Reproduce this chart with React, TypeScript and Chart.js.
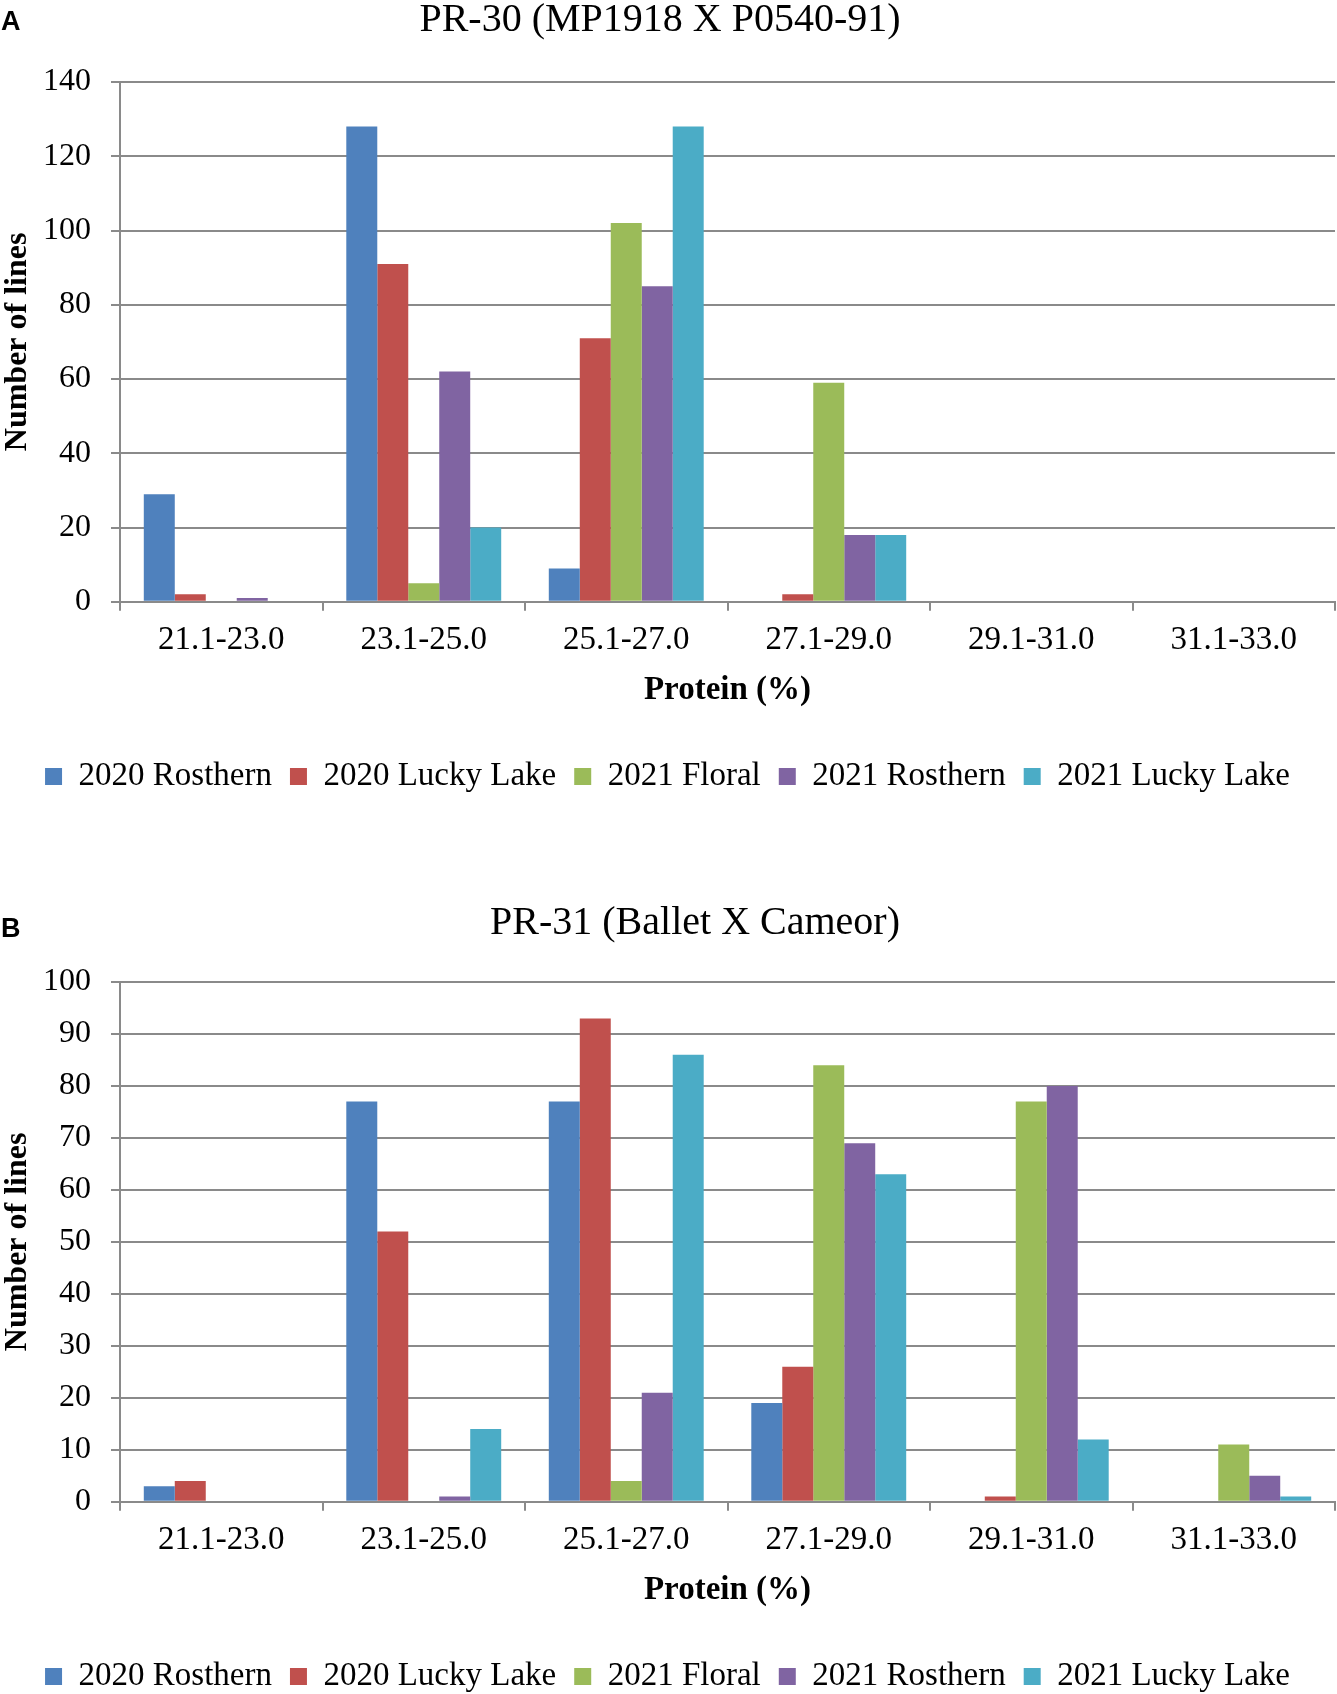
import React, { useEffect, useRef } from "react";
import { Chart, registerables } from "chart.js";

Chart.register(...registerables);

// ---------- data ----------
const categories = ["21.1-23.0", "23.1-25.0", "25.1-27.0", "27.1-29.0", "29.1-31.0", "31.1-33.0"];
const seriesNames = ["2020 Rosthern", "2020 Lucky Lake", "2021 Floral", "2021 Rosthern", "2021 Lucky Lake"];
const seriesColors = ["#4F81BD", "#C0504D", "#9BBB59", "#8064A2", "#4BACC6"];

// Panel A: PR-30 (MP1918 X P0540-91)
const pr30Rosthern2020 = [29, 128, 9, 0, 0, 0];
const pr30LuckyLake2020 = [2, 91, 71, 2, 0, 0];
const pr30Floral2021 = [0, 5, 102, 59, 0, 0];
const pr30Rosthern2021 = [1, 62, 85, 18, 0, 0];
const pr30LuckyLake2021 = [0, 20, 128, 18, 0, 0];
const pr30YMax = 140;
const pr30YStep = 20;

// Panel B: PR-31 (Ballet X Cameor)
const pr31Rosthern2020 = [3, 77, 77, 19, 0, 0];
const pr31LuckyLake2020 = [4, 52, 93, 26, 1, 0];
const pr31Floral2021 = [0, 0, 4, 84, 77, 11];
const pr31Rosthern2021 = [0, 1, 21, 69, 80, 5];
const pr31LuckyLake2021 = [0, 14, 86, 63, 12, 1];
const pr31YMax = 100;
const pr31YStep = 10;

const xTitle = "Protein (%)";
const yTitle = "Number of lines";

// ---------- styling ----------
const SERIF = "'Liberation Serif', 'Times New Roman', serif";
const SANS = "'Liberation Sans', Arial, sans-serif";
const GRID = "#8a8a8a";
const W = 1337;

const panelTitlePlugin = {
  id: "panelTitle",
  afterDraw(chart: any, _args: any, opts: any) {
    const ctx = chart.ctx;
    ctx.save();
    ctx.fillStyle = "#000";
    ctx.textBaseline = "alphabetic";
    ctx.textAlign = "left";
    ctx.font = `bold 27px ${SANS}`;
    ctx.fillText(opts.letter, opts.letterX, opts.letterY);
    ctx.textBaseline = "middle";
    ctx.textAlign = "center";
    ctx.font = `40px ${SERIF}`;
    ctx.fillText(opts.text, opts.x, opts.y);
    ctx.restore();
  },
};

function makeConfig(
  series: number[][],
  yMax: number,
  yStep: number,
  title: string,
  letter: string,
  titleX: number,
  titleY: number,
  letterY: number,
  padBottom: number
): any {
  return {
    type: "bar",
    data: {
      labels: categories,
      datasets: series.map((vals, i) => ({
        label: seriesNames[i],
        data: vals,
        backgroundColor: seriesColors[i],
        borderWidth: 0,
        categoryPercentage: 0.765,
        barPercentage: 1.0,
      })),
    },
    plugins: [panelTitlePlugin],
    options: {
      responsive: false,
      animation: false,
      devicePixelRatio: 1,
      layout: { padding: { top: 82, left: 0, right: 2, bottom: padBottom } },
      plugins: {
        tooltip: { enabled: false },
        title: { display: false },
        panelTitle: { text: title, letter, x: titleX, y: titleY, letterX: 1, letterY },
        legend: {
          display: true,
          position: "bottom",
          align: "center",
          labels: {
            boxWidth: 17,
            boxHeight: 17,
            padding: 18,
            color: "#000",
            font: { family: SERIF, size: 33 },
          },
        },
      },
      scales: {
        x: {
          offset: true,
          grid: {
            display: true,
            offset: true,
            drawOnChartArea: false,
            drawTicks: true,
            tickLength: 9,
            color: GRID,
            lineWidth: 2,
          },
          border: { display: true, color: GRID, width: 2 },
          ticks: {
            color: "#000",
            font: { family: SERIF, size: 33 },
            padding: 10,
            maxRotation: 0,
            autoSkip: false,
          },
          title: {
            display: true,
            text: xTitle,
            color: "#000",
            font: { family: SERIF, size: 33, weight: "bold" },
            padding: { top: 0, bottom: 32 },
          },
        },
        y: {
          min: 0,
          max: yMax,
          grid: {
            display: true,
            drawTicks: true,
            tickLength: 9,
            color: GRID,
            lineWidth: 2,
          },
          border: { display: true, color: GRID, width: 2 },
          ticks: {
            stepSize: yStep,
            color: "#000",
            font: { family: SERIF, size: 32 },
            padding: 20,
          },
          title: {
            display: true,
            text: yTitle,
            color: "#000",
            font: { family: SERIF, size: 32, weight: "bold", lineHeight: 1.0 },
            padding: { top: 2, bottom: -11 },
          },
        },
      },
    },
  };
}

export default function App() {
  const refA = useRef<HTMLCanvasElement | null>(null);
  const refB = useRef<HTMLCanvasElement | null>(null);

  useEffect(() => {
    document.body.style.margin = "0";
    const charts: Chart[] = [];
    if (refA.current) {
      charts.push(
        new Chart(
          refA.current,
          makeConfig(
            [pr30Rosthern2020, pr30LuckyLake2020, pr30Floral2021, pr30Rosthern2021, pr30LuckyLake2021],
            pr30YMax,
            pr30YStep,
            "PR-30 (MP1918 X P0540-91)",
            "A",
            660,
            20,
            30,
            97
          )
        )
      );
    }
    if (refB.current) {
      charts.push(
        new Chart(
          refB.current,
          makeConfig(
            [pr31Rosthern2020, pr31LuckyLake2020, pr31Floral2021, pr31Rosthern2021, pr31LuckyLake2021],
            pr31YMax,
            pr31YStep,
            "PR-31 (Ballet X Cameor)",
            "B",
            695,
            23,
            37,
            -9
          )
        )
      );
    }
    return () => charts.forEach((c) => c.destroy());
  }, []);

  return (
    <div style={{ width: W, background: "#fff" }}>
      <canvas ref={refA} width={W} height={900} style={{ display: "block", width: W, height: 900 }} />
      <canvas ref={refB} width={W} height={794} style={{ display: "block", width: W, height: 794 }} />
    </div>
  );
}
